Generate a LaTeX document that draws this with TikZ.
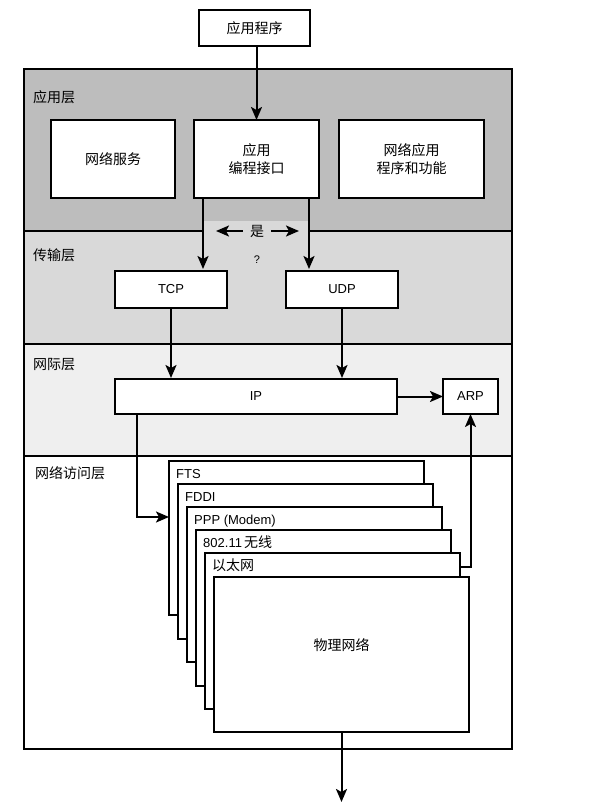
\documentclass[tikz,border=0pt]{standalone}
\usepackage{fontspec}
\setmainfont{Liberation Sans}
\newfontfamily\cjk{Noto Sans CJK SC}
\usetikzlibrary{arrows.meta}
\definecolor{appc}{HTML}{BDBDBD}
\definecolor{trc}{HTML}{D9D9D9}
\definecolor{inc}{HTML}{EFEFEF}
\begin{document}
\begin{tikzpicture}[x=1pt,y=-1pt,
  box/.style={draw,line width=2pt,fill=white,inner sep=0pt,outer sep=0pt,align=center,anchor=north west,font=\fontsize{13}{17}\selectfont},
  arr/.style={line width=2pt,-{Stealth[length=13pt,width=11pt,inset=3pt]}},
  lay/.style={anchor=west,inner sep=0pt,font=\cjk\fontsize{14}{16}\selectfont},
  tl/.style={anchor=base west,inner sep=0pt,font=\fontsize{13}{15}\selectfont},
  divider/.style={line width=2pt},
]
\useasboundingbox (0,0) rectangle (597,811);
% layer backgrounds
\fill[appc] (24,69) rectangle (512,231);
\fill[trc] (24,231) rectangle (512,344);
\fill[trc] (203,221) rectangle (309,231);
\fill[inc] (24,344) rectangle (512,456);
\fill[white] (24,456) rectangle (512,749);
\draw[divider] (24,231) -- (203,231);
\draw[divider] (309,231) -- (512,231);
\draw[divider] (24,344) -- (512,344);
\draw[divider] (24,456) -- (512,456);
\draw[line width=2.2pt] (24,69) rectangle (512,749);

% layer labels
\node[lay] (l1) at (33,97) {应用层};
\node[lay] (l2) at (33,255) {传输层};
\node[lay] (l3) at (33,365) {网际层};
\node[lay] (l4) at (35,473) {网络访问层};

% top boxes
\node[box,minimum width=111pt,minimum height=36pt,font=\cjk\fontsize{14}{18}\selectfont] (app) at (199,10) {应用程序};
\node[box,minimum width=124pt,minimum height=78pt,font=\cjk\fontsize{14}{18}\selectfont] (svc) at (51,120) {网络服务};
\node[box,minimum width=125pt,minimum height=78pt,font=\cjk\fontsize{14}{18}\selectfont] (api) at (194,120) {应用\\编程接口};
\node[box,minimum width=145pt,minimum height=78pt,font=\cjk\fontsize{14}{18}\selectfont] (napp) at (339,120) {网络应用\\程序和功能};

\node[box,minimum width=112pt,minimum height=37pt] (tcp) at (115,271) {TCP};
\node[box,minimum width=112pt,minimum height=37pt] (udp) at (286,271) {UDP};
\node[box,minimum width=282pt,minimum height=35pt] (ip) at (115,379) {IP};
\node[box,minimum width=55pt,minimum height=35pt] (arp) at (443,379) {ARP};

% stacked boxes
\node[box,minimum width=255pt,minimum height=154pt] (fts) at (169,461) {};
\node[tl] (tfts) at ([shift={(7,17)}]fts.north west) {FTS};
\node[box,minimum width=255pt,minimum height=155pt] (fddi) at (178,484) {};
\node[tl] (tfddi) at ([shift={(7,17)}]fddi.north west) {FDDI};
\node[box,minimum width=255pt,minimum height=155pt] (ppp) at (187,507) {};
\node[tl] (tppp) at ([shift={(7,17)}]ppp.north west) {PPP (Modem)};
\node[box,minimum width=255pt,minimum height=156pt] (wifi) at (196,530) {};
\node[tl] (twifi) at ([shift={(7,17)}]wifi.north west) {802.11\,{\cjk\fontsize{14}{15}\selectfont 无线}};
\node[box,minimum width=255pt,minimum height=156pt] (eth) at (205,553) {};
\node[tl,font=\cjk\fontsize{14}{15}\selectfont] (teth) at ([shift={(7,17)}]eth.north west) {以太网};
\node[box,minimum width=255pt,minimum height=155pt] (phys) at (214,577) {};
\node[inner sep=0pt,font=\cjk\fontsize{14}{16}\selectfont] (tphys) at (341.5,645) {物理网络};

% yes / ?
\node[inner sep=1pt,font=\cjk\fontsize{14}{16}\selectfont] (shi) at (257,231) {是};
\node[inner sep=1pt,font=\fontsize{11}{13}\selectfont] (q) at (257,260) {?};

% coordinates
\coordinate (ca) at (203,231);
\coordinate (cb) at (309,231);
\coordinate (cl) at (216,231);
\coordinate (cr) at (299,231);
\coordinate (cc) at (137,517);
\coordinate (cd) at (472,567);
\coordinate (ce) at (341.5,802);

% connectors
\draw[arr] (app.south -| api.north) -- (api.north);
\draw[arr,shorten >=2pt] (api.south -| ca) -- (tcp.north -| ca);
\draw[arr,shorten >=2pt] (api.south -| cb) -- (udp.north -| cb);
\draw[arr] ([xshift=-6pt]shi.west) -- (cl);
\draw[arr] ([xshift=6pt]shi.east) -- (cr);
\draw[arr,shorten >=1pt] (tcp) -- (tcp |- ip.north);
\draw[arr,shorten >=1pt] (udp) -- (udp |- ip.north);
\draw[arr] (ip) -- (arp);
\draw[arr] (ip.south -| cc) -- (cc) -- (fts.west |- cc);
\draw[arr] (eth.east |- cd) -| (arp.south);
\draw[arr] (phys.south) -- (phys.south |- ce);
\end{tikzpicture}
\end{document}
